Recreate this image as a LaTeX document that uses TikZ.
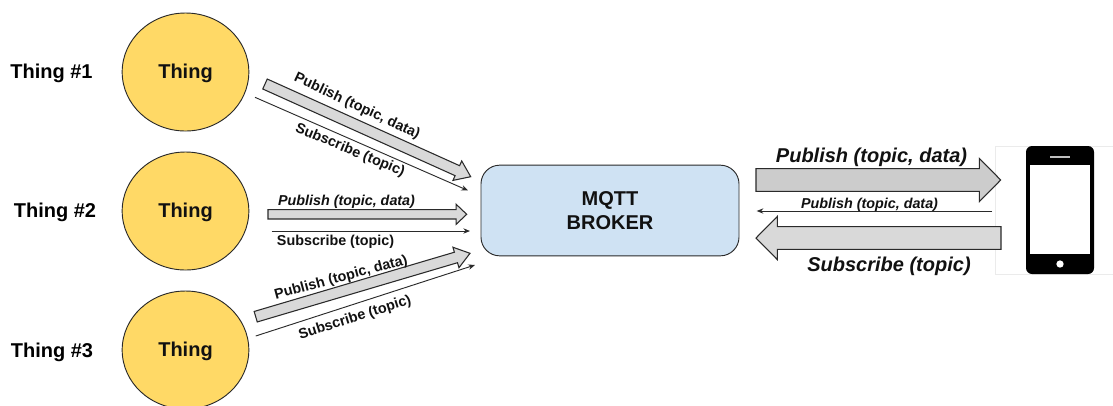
\documentclass[tikz,border=0pt]{standalone}
\usepackage{fontspec}
\setmainfont{Liberation Sans}
\usetikzlibrary{calc,arrows.meta,shapes.geometric}
\definecolor{thingfill}{HTML}{FFD966}
\definecolor{brokerfill}{HTML}{CFE2F3}
\definecolor{edge}{HTML}{2A2A2A}
\definecolor{inkc}{HTML}{111111}
\tikzset{
  thing/.style={ellipse,draw=edge,line width=.7pt,fill=thingfill,minimum width=95pt,minimum height=88.5pt,inner sep=0pt,text=inkc,font=\fontsize{15}{18}\selectfont\bfseries},
  broker/.style={rectangle,rounded corners=14pt,draw=edge,line width=.7pt,fill=brokerfill,minimum width=193.5pt,minimum height=68pt,inner sep=0pt,align=center,text=inkc,font=\fontsize{15}{18}\selectfont\bfseries},
  thinglabel/.style={text=black,font=\fontsize{15}{18}\selectfont\bfseries,inner sep=0pt},
  smalllabel/.style={text=inkc,font=\fontsize{10.75}{13}\selectfont\bfseries,inner sep=0pt},
  smallital/.style={text=inkc,font=\fontsize{10.75}{13}\selectfont\bfseries\itshape,inner sep=0pt},
  biglabel/.style={text=inkc,font=\fontsize{15}{18}\selectfont\bfseries\itshape,inner sep=0pt},
  thinarrow/.style={draw=edge,line width=.7pt,-{Stealth[length=5pt,width=4pt]}},
  blockfill/.style={draw=edge,line width=.8pt,fill=#1,line join=miter},
}
% name a, name b are the tail and the tip; half shaft, half head, head length
\newcommand{\blockarrow}[5]{%
  \draw[blockfill=#5]
    ($(#1)!#2!90:(#1b)$) -- ($(#1b)!#4!(#1)!#2!-90:(#1)$) -- ($(#1b)!#4!(#1)!#3!-90:(#1)$) --
    (#1b) --
    ($(#1b)!#4!(#1)!#3!90:(#1)$) -- ($(#1b)!#4!(#1)!#2!90:(#1)$) -- ($(#1)!#2!-90:(#1b)$) -- cycle;}
\newcommand{\thingtext}{\raisebox{-5pt}[0pt][0pt]{Thing}}
\begin{document}
\begin{tikzpicture}[x=.75pt,y=-.75pt]
\useasboundingbox (0,0) rectangle (1113,405);
\fill[white] (0,0) rectangle (1113,405);
% things
\node[thing] (t1) at (185.5,72) {\thingtext};
\node[thing] (t2) at (185.5,211) {\thingtext};
\node[thing] (t3) at (185.5,350) {\thingtext};
\node[thinglabel] (l1) at (51.5,73.5) {Thing \#1};
\node[thinglabel] (l2) at (55,212.5) {Thing \#2};
\node[thinglabel] (l3) at (52,352.5) {Thing \#3};
\node[broker] (broker) at (610,210.5) {MQTT\\[0.5pt]BROKER};
% phone
\draw[draw=black!8,line width=.5pt] (1114,146) -- (995,146) -- (995,274) -- (1114,274);
\node[fill=black,rounded corners=4.5pt,minimum width=51pt,minimum height=96pt,inner sep=0pt] (phone) at (1060,210) {};
\node[fill=white,minimum width=45pt,minimum height=67pt,inner sep=0pt] (screen) at (1060,209.5) {};
\node[fill=white!75!black,minimum width=15pt,minimum height=1.2pt,inner sep=0pt] (speaker) at (1060,157) {};
\node[circle,fill=white,minimum size=5.5pt,inner sep=0pt] (home) at (1060,264) {};
% block arrows
\coordinate (ba) at (265,84);    \coordinate (bab) at (470.7,176.7);
\coordinate (bb) at (268,214.3); \coordinate (bbb) at (466.7,214.3);
\coordinate (bc) at (255.7,316.7); \coordinate (bcb) at (470,253.3);
\coordinate (bd) at (756,180);   \coordinate (bdb) at (1000.7,180);
\coordinate (be) at (1001,238);  \coordinate (beb) at (756,238);
\blockarrow{ba}{4.1pt}{8pt}{11pt}{black!15}
\blockarrow{bb}{3.5pt}{7.6pt}{8pt}{black!15}
\blockarrow{bc}{4.1pt}{8pt}{11pt}{black!15}
\blockarrow{bd}{8.5pt}{16.2pt}{16pt}{black!20}
\blockarrow{be}{8.5pt}{16.2pt}{16pt}{black!15}
% thin arrows
\coordinate (sa) at (255,97.3);   \coordinate (sab) at (468,190.5);
\coordinate (sb) at (271.7,231);  \coordinate (sbb) at (470,231);
\coordinate (sc) at (255.7,336);  \coordinate (scb) at (475,265);
\coordinate (sd) at (992,211);    \coordinate (sdb) at (756.7,211);
\draw[thinarrow] (sa) -- (sab);
\draw[thinarrow] (sb) -- (sbb);
\draw[thinarrow] (sc) -- (scb);
\draw[thinarrow] (sd) -- (sdb);
% labels
\node[smalllabel,rotate=-25] (p1) at (357,106.5) {Publish (topic, data)};
\node[smalllabel,rotate=-22.5] (s1) at (350,150.5) {Subscribe (topic)};
\node[smallital] (p2) at (346.5,201.5) {Publish (topic, data)};
\node[smalllabel] (s2) at (335.5,241.5) {Subscribe (topic)};
\node[smalllabel,rotate=15] (p3) at (341,278) {Publish (topic, data)};
\node[smalllabel,rotate=17.5] (s3) at (355,318) {Subscribe (topic)};
\node[biglabel] (p4) at (871.5,157) {Publish (topic, data)};
\node[smallital] (p5) at (869.5,204.5) {Publish (topic, data)};
\node[biglabel] (s4) at (889,266.5) {Subscribe (topic)};
\end{tikzpicture}
\end{document}
